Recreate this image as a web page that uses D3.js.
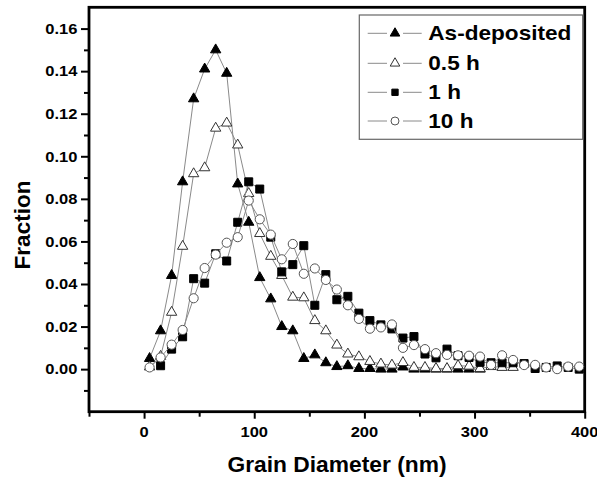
<!DOCTYPE html>
<html>
<head>
<meta charset="utf-8">
<script src="https://cdn.jsdelivr.net/npm/d3@7"></script>
<style>
  html, body { margin: 0; padding: 0; background: #fff; }
  svg { display: block; }
  text { font-family: "Liberation Sans", Arial, sans-serif; font-weight: bold; fill: #000; }
</style>
</head>
<body>
<script>
// ---- data ----
const diameters = [5,15,25,35,45,55,65,75,85,95,105,115,125,135,145,155,165,175,185,195,205,215,225,235,245,255,265,275,285,295,305,315,325,335,345,355,365,375,385,395];

const asDeposited = [0.005,0.018,0.044,0.088,0.127,0.141,0.150,0.139,0.087,0.069,0.043,0.033,0.020,0.018,0.005,0.0067,0.003,0.0012,0.0016,0.0003,0.0003,0.0,0.0,0.001,0.0,0.0,0.0,0.0,0.0,0.0,0.0];

const h05 = [0.001,0.006,0.0267,0.0577,0.0918,0.0946,0.1132,0.1156,0.1053,0.0825,0.0637,0.053,0.044,0.0338,0.0335,0.0228,0.018,0.0113,0.0071,0.0058,0.0036,0.0024,0.0019,0.0031,0.0008,0.0008,0.0003,0.0003,0.0016,0.0014,0.0003,0.0012,0.0008,0.0008];

const h1 = [null,0.0016,0.0094,0.0152,0.0425,0.0404,0.0542,0.0508,0.069,0.088,0.0846,0.062,0.0457,0.0491,0.058,0.030,0.0444,0.0326,0.0342,0.0263,0.0228,0.0208,0.0189,0.0146,0.0153,0.0071,0.0053,0.0094,0.0063,0.0055,0.0032,0.003,0.003,0.003,0.0026,0.0003,0.0008,0.0015,0.0008,0.0];

const h10 = [0.0008,0.0055,0.0115,0.0184,0.0333,0.0475,0.0538,0.0594,0.062,0.0792,0.0704,0.0632,0.0516,0.0588,0.0448,0.0473,0.0419,0.0374,0.030,0.0236,0.019,0.0196,0.021,0.010,0.0113,0.0094,0.0075,0.0067,0.0065,0.0063,0.0059,0.002,0.0065,0.0043,0.0019,0.002,0.0008,0.0,0.0012,0.0012];

const seriesNames = ["As-deposited","0.5 h","1 h","10 h"];
const xMajorTicks = [0,100,200,300,400];
const xMinorTicks = [-50,50,150,250,350];
const yMajorTicks = [0.00,0.02,0.04,0.06,0.08,0.10,0.12,0.14,0.16];
const yMinorTicks = [-0.01,0.01,0.03,0.05,0.07,0.09,0.11,0.13,0.15];
const xTitle = "Grain Diameter (nm)";
const yTitle = "Fraction";

// ---- layout ----
const W = 597, H = 479;
const L = 89, R = 584.7, T = 7.3, B = 411.7;
const SX = 1.1; // horizontal text stretch

const svg = d3.select("body").append("svg").attr("width", W).attr("height", H);

const x = d3.scaleLinear().domain([-50, 400]).range([L, R]);
const y = d3.scaleLinear().domain([-0.02, 0.17]).range([B, T]);

// axes (ticks outward)
const axB = svg.append("g").attr("transform", `translate(0,${B})`)
  .call(d3.axisBottom(x).tickValues(xMajorTicks).tickSize(7).tickFormat(d3.format("d")));
const axBm = svg.append("g").attr("transform", `translate(0,${B})`)
  .call(d3.axisBottom(x).tickValues(xMinorTicks).tickSize(5).tickFormat(""));
const axL = svg.append("g").attr("transform", `translate(${L},0)`)
  .call(d3.axisLeft(y).tickValues(yMajorTicks).tickSize(8).tickFormat(d3.format(".2f")));
const axLm = svg.append("g").attr("transform", `translate(${L},0)`)
  .call(d3.axisLeft(y).tickValues(yMinorTicks).tickSize(5).tickFormat(""));

[axB, axBm, axL, axLm].forEach(g => {
  g.select(".domain").remove();
  g.selectAll(".tick line").attr("stroke", "#000").attr("stroke-width", 2);
});
axB.selectAll(".tick text").remove();
axL.selectAll(".tick text").remove();

// tick labels with stretch
xMajorTicks.forEach(v => {
  svg.append("text").attr("transform", `translate(${x(v)},437.3) scale(${SX},1)`)
    .attr("text-anchor", "middle").attr("font-size", 15).text(v);
});
yMajorTicks.forEach(v => {
  svg.append("text").attr("transform", `translate(77.3,${y(v) + 5.3}) scale(${SX},1)`)
    .attr("text-anchor", "end").attr("font-size", 15).text(d3.format(".2f")(v));
});

// frame
svg.append("rect").attr("x", L).attr("y", T).attr("width", R - L).attr("height", B - T)
  .attr("fill", "none").attr("stroke", "#000").attr("stroke-width", 2.8);

// titles
svg.append("text").attr("transform", `translate(337,472.3) scale(1.06,1)`)
  .attr("text-anchor", "middle").attr("font-size", 21.5).text(xTitle);
svg.append("text").attr("transform", `translate(29.5,225) rotate(-90)`)
  .attr("text-anchor", "middle").attr("font-size", 22.5).text(yTitle);

// series
const tri = d3.symbol().type(d3.symbolTriangle).size(46);
const triL = d3.symbol().type(d3.symbolTriangle).size(40);
const sq = d3.symbol().type(d3.symbolSquare).size(64);
const sqL = d3.symbol().type(d3.symbolSquare).size(40);
const circ = d3.symbol().type(d3.symbolCircle).size(66);
const circL = d3.symbol().type(d3.symbolCircle).size(50);

const styles = [
  { sym: tri, symL: triL, fill: "#000", stroke: "#000" },
  { sym: tri, symL: triL, fill: "#fff", stroke: "#333" },
  { sym: sq,  symL: sqL,  fill: "#000", stroke: "#000" },
  { sym: circ, symL: circL, fill: "#fff", stroke: "#555" }
];
const allSeries = [asDeposited, h05, h1, h10];

const line = d3.line().defined(d => d[1] != null).x(d => x(d[0])).y(d => y(d[1]));

allSeries.forEach((vals, i) => {
  const pts = vals.map((v, j) => [diameters[j], v]);
  const g = svg.append("g");
  g.append("path").attr("d", line(pts)).attr("fill", "none")
    .attr("stroke", "#8a8a8a").attr("stroke-width", 1);
  g.selectAll("path.m").data(pts.filter(d => d[1] != null)).enter().append("path")
    .attr("class", "m")
    .attr("d", styles[i].sym())
    .attr("transform", d => `translate(${x(d[0])},${y(d[1])})`)
    .attr("fill", styles[i].fill).attr("stroke", styles[i].stroke).attr("stroke-width", 1);
});

// legend
const lg = svg.append("g");
lg.append("rect").attr("x", 359.3).attr("y", 15).attr("width", 223.4).attr("height", 124.3)
  .attr("fill", "#fff").attr("stroke", "#666").attr("stroke-width", 1.2);
const legY = [33.3, 63.3, 92.3, 121];
seriesNames.forEach((name, i) => {
  const yy = legY[i];
  lg.append("line").attr("x1", 367.7).attr("x2", 387).attr("y1", yy).attr("y2", yy)
    .attr("stroke", "#8a8a8a").attr("stroke-width", 1);
  lg.append("line").attr("x1", 403).attr("x2", 421.7).attr("y1", yy).attr("y2", yy)
    .attr("stroke", "#8a8a8a").attr("stroke-width", 1);
  lg.append("path").attr("d", styles[i].symL()).attr("transform", `translate(395,${yy})`)
    .attr("fill", styles[i].fill).attr("stroke", styles[i].stroke).attr("stroke-width", 1);
  lg.append("text").attr("transform", `translate(428.3,${yy + 7}) scale(1.13,1)`)
    .attr("font-size", 20).text(name);
});
</script>
</body>
</html>
